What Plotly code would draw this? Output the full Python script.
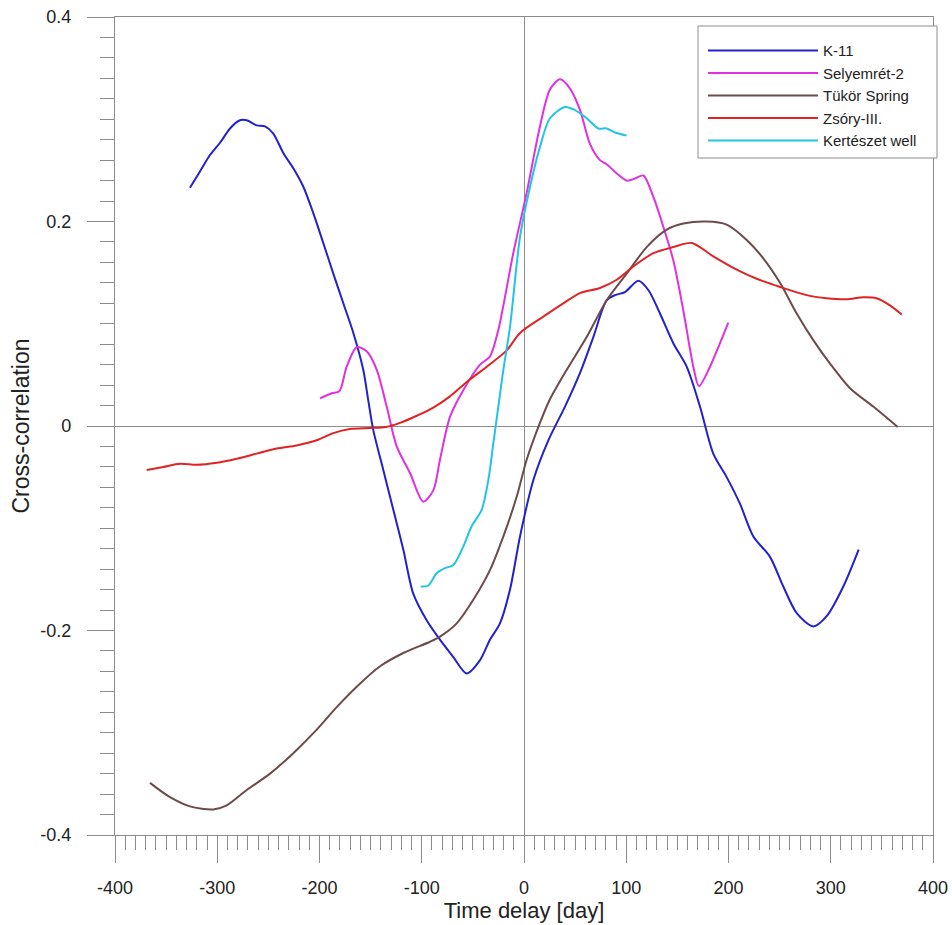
import plotly.graph_objects as go

# --- data (time delay in days, cross-correlation) ---
k11_days = [-326.7, -316.9, -307.1, -297.3, -287.5, -277.8, -271.2, -261.4, -253.3, -245.2,
            -235.4, -225.6, -215.8, -206.0, -196.3, -186.5, -176.7, -166.9, -157.2, -152.3,
            -147.4, -137.6, -127.8, -118.0, -108.3, -95.2, -82.2, -69.1, -56.0, -43.0,
            -33.3, -23.5, -13.7, -3.9, 9.1, 23.8, 40.1, 54.8, 67.8, 80.9,
            89.0, 98.8, 111.8, 121.6, 133.0, 146.0, 159.1, 172.1, 185.1, 198.2,
            211.2, 224.3, 240.6, 253.6, 266.7, 282.9, 296.0, 312.3, 327.3]
k11_vals = [0.233, 0.249, 0.265, 0.277, 0.291, 0.299, 0.299, 0.294, 0.293, 0.286,
            0.267, 0.252, 0.234, 0.208, 0.179, 0.149, 0.120, 0.091, 0.055, 0.025,
            -0.004, -0.043, -0.082, -0.121, -0.164, -0.190, -0.209, -0.226, -0.242, -0.229,
            -0.209, -0.193, -0.160, -0.108, -0.053, -0.014, 0.019, 0.052, 0.087, 0.123,
            0.128, 0.131, 0.142, 0.133, 0.110, 0.081, 0.058, 0.019, -0.027, -0.050,
            -0.076, -0.108, -0.128, -0.157, -0.183, -0.196, -0.186, -0.157, -0.121]

sely_days = [-199.5, -188.0, -180.6, -173.4, -163.6, -153.9, -144.0, -134.3, -124.5, -111.5,
             -98.5, -88.7, -82.2, -72.4, -59.4, -43.0, -33.3, -25.1, -10.5, 2.6,
             15.6, 25.4, 35.2, 45.0, 54.8, 64.5, 74.3, 80.9, 90.7, 100.4,
             108.6, 116.7, 126.5, 136.2, 146.0, 155.8, 165.6, 171.1, 181.9, 191.7, 199.8]
sely_vals = [0.027, 0.032, 0.034, 0.058, 0.077, 0.073, 0.055, 0.019, -0.020, -0.046,
             -0.074, -0.063, -0.033, 0.009, 0.035, 0.060, 0.068, 0.094, 0.169, 0.228,
             0.293, 0.329, 0.339, 0.330, 0.309, 0.276, 0.260, 0.256, 0.247, 0.240,
             0.242, 0.245, 0.224, 0.195, 0.162, 0.113, 0.058, 0.039, 0.058, 0.081, 0.101]

tukor_days = [-365.8, -346.2, -326.7, -303.9, -290.8, -271.2, -248.4, -225.6, -202.7, -183.2,
              -163.6, -140.8, -118.0, -91.9, -82.2, -65.8, -49.6, -33.3, -20.2, -7.1,
              2.6, 15.6, 24.8, 41.8, 61.3, 80.9, 100.4, 120.0, 139.6, 155.8,
              178.7, 198.2, 217.8, 234.0, 250.4, 266.7, 282.9, 299.3, 318.8, 341.6, 365.5]
tukor_vals = [-0.349, -0.363, -0.372, -0.375, -0.371, -0.356, -0.340, -0.320, -0.297, -0.275,
              -0.255, -0.235, -0.222, -0.211, -0.206, -0.193, -0.170, -0.141, -0.108, -0.069,
              -0.033, 0.003, 0.025, 0.055, 0.087, 0.123, 0.149, 0.175, 0.192, 0.198,
              0.200, 0.197, 0.182, 0.164, 0.140, 0.110, 0.084, 0.061, 0.037, 0.019, -0.001]

zsory_days = [-369.0, -352.8, -336.4, -320.1, -300.5, -281.0, -261.4, -241.9, -222.3, -202.7,
              -186.5, -170.2, -150.6, -135.0, -121.3, -104.9, -88.7, -72.4, -56.0, -36.5,
              -16.9, -3.9, 18.9, 38.4, 54.8, 74.3, 90.7, 106.9, 126.5, 146.0, 164.0,
              185.1, 208.0, 227.6, 250.4, 276.5, 296.0, 315.6, 331.8, 344.9, 357.9, 369.4]
zsory_vals = [-0.043, -0.040, -0.037, -0.038, -0.036, -0.032, -0.027, -0.022, -0.019, -0.014,
              -0.007, -0.003, -0.002, -0.001, 0.003, 0.010, 0.018, 0.029, 0.043, 0.058,
              0.074, 0.091, 0.107, 0.120, 0.130, 0.135, 0.143, 0.156, 0.169, 0.175, 0.179,
              0.166, 0.153, 0.144, 0.136, 0.128, 0.125, 0.124, 0.126, 0.125, 0.118, 0.109]

kert_days = [-101.0, -93.6, -85.4, -77.3, -69.1, -59.4, -51.2, -41.4, -34.9, -30.0,
             -25.1, -20.2, -13.7, -3.9, 5.9, 15.6, 25.4, 40.1, 49.9, 61.3,
             72.7, 80.9, 89.0, 100.4]
kert_vals = [-0.157, -0.156, -0.144, -0.139, -0.136, -0.118, -0.098, -0.082, -0.053, -0.017,
             0.019, 0.055, 0.097, 0.185, 0.234, 0.273, 0.301, 0.312, 0.309, 0.301,
             0.291, 0.291, 0.287, 0.284]

x_ticks = [-400, -300, -200, -100, 0, 100, 200, 300, 400]
y_ticks = [-0.4, -0.2, 0, 0.2, 0.4]
y_labels = ["-0.4", "-0.2", "0", "0.2", "0.4"]

series = [
    ("K-11", k11_days, k11_vals, "#2222cc"),
    ("Selyemrét-2", sely_days, sely_vals, "#e030e0"),
    ("Tükör Spring", tukor_days, tukor_vals, "#6e4a4a"),
    ("Zsóry-III.", zsory_days, zsory_vals, "#e02424"),
    ("Kertészet well", kert_days, kert_vals, "#22c4e4"),
]

fig = go.Figure()
for name, xs, ys, col in series:
    fig.add_trace(go.Scatter(x=xs, y=ys, name=name, mode="lines",
                             line=dict(color=col, width=2, shape="spline", smoothing=0.8)))

axis_col = "#8c8c8c"
fig.update_xaxes(
    range=[-400, 400], tickvals=x_ticks, ticktext=[str(v) for v in x_ticks],
    ticks="outside", ticklen=27, tickcolor=axis_col, tickwidth=1.2,
    minor=dict(ticks="outside", ticklen=14, tick0=0, dtick=10, tickcolor=axis_col, showgrid=False),
    showline=True, linecolor=axis_col, linewidth=1.2, mirror=True,
    showgrid=False, zeroline=True, zerolinecolor=axis_col, zerolinewidth=1.2,
    ticklabelstandoff=9,
    tickfont=dict(size=18, color="#222"),
    title=dict(text="Time delay [day]", font=dict(size=22, color="#222"), standoff=2),
)
fig.update_yaxes(
    range=[-0.4, 0.4], tickvals=y_ticks, ticktext=y_labels,
    ticks="outside", ticklen=27, tickcolor=axis_col, tickwidth=1.2,
    minor=dict(ticks="outside", ticklen=14, tick0=0, dtick=0.02, tickcolor=axis_col, showgrid=False),
    showline=True, linecolor=axis_col, linewidth=1.2, mirror=True,
    showgrid=False, zeroline=True, zerolinecolor=axis_col, zerolinewidth=1.2,
    ticklabelstandoff=12,
    tickfont=dict(size=18, color="#222"),
    title=dict(text="Cross-correlation", font=dict(size=23, color="#222"), standoff=4),
)

# legend frame drawn as a box so its padding matches the reference
fig.add_shape(type="rect", xref="paper", yref="paper",
              x0=0.7127, x1=1.0049, y0=0.8276, y1=0.989,
              line=dict(color=axis_col, width=1), fillcolor="white", layer="above")

fig.update_layout(
    width=952, height=925,
    margin=dict(l=115, r=19, t=17, b=90, autoexpand=False),
    paper_bgcolor="white", plot_bgcolor="white",
    font=dict(family="Liberation Sans, Arial, sans-serif", color="#222"),
    legend=dict(x=0.7188, y=0.979, xanchor="left", yanchor="top",
                borderwidth=0, bgcolor="rgba(0,0,0,0)",
                font=dict(size=15), itemwidth=110, tracegroupgap=0),
    showlegend=True,
)

fig.write_html("out.html", config={"displayModeBar": False},
               post_script="document.body.style.margin='0';")
